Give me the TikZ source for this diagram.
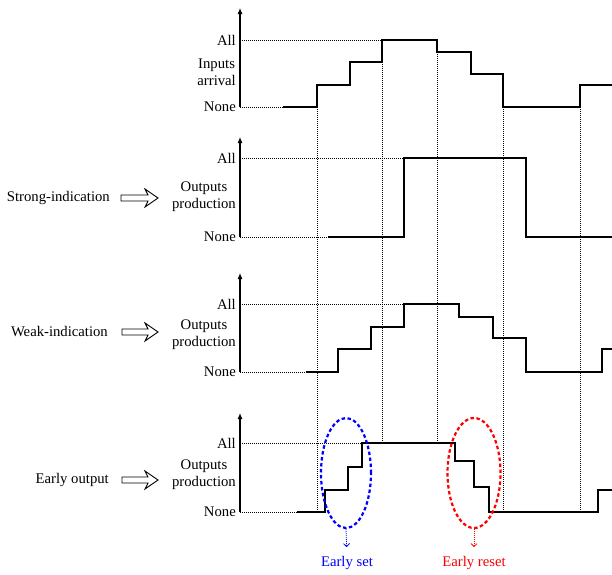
\documentclass[tikz,border=0pt]{standalone}
\usepackage{fontspec}
\setmainfont{Liberation Serif}
\usetikzlibrary{shapes.geometric,arrows.meta}
\begin{document}
\begin{tikzpicture}[x=1pt,y=-1pt,
  lbl/.style={font=\fontsize{14.7}{17}\selectfont, inner sep=0pt},
  lvl/.style={lbl, anchor=east},
  two/.style={lbl, anchor=east, align=center},
  wave/.style={line width=1.2pt, line join=miter},
  guide/.style={line width=0.6pt, dash pattern=on 1pt off 1pt},
  axis/.style={line width=1.1pt, -{Latex[length=6pt,width=5pt]}},
  fat/.style={draw, line width=0.9pt, fill=white, line join=miter},
  blob/.style={ellipse, draw, line width=2.2pt, dash pattern=on 3.5pt off 2.5pt, minimum height=110pt, inner sep=0pt},
  pointer/.style={line width=0.8pt, dash pattern=on 1pt off 1pt, -{Straight Barb[length=3pt,width=6pt]}, shorten >=9pt}
]
\useasboundingbox (0,0) rectangle (612,574);

% vertical guides
\draw[guide] (317,107) -- (317,512);
\draw[guide] (382,62) -- (382,443);
\draw[guide] (437,52) -- (437,443);
\draw[guide] (503,107) -- (503,512);
\draw[guide] (580,107) -- (580,512);

% ---- plot 1: inputs arrival
\draw[axis] (240,107) -- (240,8);
\draw[guide] (240,40) -- (382,40);
\draw[guide] (240,107) -- (283,107);
\draw[wave] (283,107) -- (317,107) -- (317,85) -- (350,85) -- (350,62) -- (382,62) -- (382,40) -- (437,40) -- (437,52) -- (471,52) -- (471,74) -- (503,74) -- (503,107) -- (580,107) -- (580,85) -- (612,85);
\node[lvl] (a1) at (236,40) {All};
\node[lvl] (n1) at (236,107) {None};
\node[two] (t1) at (236,72) {Inputs\\arrival};

% ---- plot 2: strong indication
\draw[axis] (240,237) -- (240,137);
\draw[guide] (240,158) -- (404,158);
\draw[guide] (240,237) -- (328,237);
\draw[wave] (328,237) -- (404,237) -- (404,158) -- (526,158) -- (526,237) -- (612,237);
\node[lvl] (a2) at (236,158) {All};
\node[lvl] (n2) at (236,237) {None};
\node[two] (t2) at (236,197) {Outputs\\production};
\node[lvl] (s2) at (110,198) {Strong-indication};
\coordinate (f2) at (121,198);
\draw[fat] (f2) ++(0,-3) -- ++(27,0) -- ++(-3,-6) -- ++(13,9) -- ++(-13,9) -- ++(3,-6) -- ++(-27,0) -- cycle;

% ---- plot 3: weak indication
\draw[axis] (240,372) -- (240,273);
\draw[guide] (240,304) -- (404,304);
\draw[guide] (240,372) -- (306,372);
\draw[wave] (306,372) -- (338,372) -- (338,349) -- (371,349) -- (371,327) -- (404,327) -- (404,304) -- (459,304) -- (459,317) -- (493,317) -- (493,338) -- (526,338) -- (526,372) -- (602,372) -- (602,349) -- (612,349);
\node[lvl] (a3) at (236,304) {All};
\node[lvl] (n3) at (236,372) {None};
\node[two] (t3) at (236,335) {Outputs\\production};
\node[lvl] (s3) at (108,332) {Weak-indication};
\coordinate (f3) at (122,332);
\draw[fat] (f3) ++(0,-3) -- ++(26,0) -- ++(-3,-6) -- ++(13,9) -- ++(-13,9) -- ++(3,-6) -- ++(-26,0) -- cycle;

% ---- plot 4: early output
\draw[axis] (240,512) -- (240,413);
\draw[guide] (240,443) -- (362,443);
\draw[guide] (240,512) -- (297,512);
\draw[wave] (297,512) -- (325,512) -- (325,490) -- (348,490) -- (348,467) -- (362,467) -- (362,443) -- (455,443) -- (455,461) -- (474,461) -- (474,487) -- (489,487) -- (489,512) -- (598,512) -- (598,490) -- (612,490);
\node[lvl] (a4) at (236,443) {All};
\node[lvl] (n4) at (236,512) {None};
\node[two] (t4) at (236,475) {Outputs\\production};
\node[lvl] (s4) at (109,480) {Early output};
\coordinate (f4) at (122,480);
\draw[fat] (f4) ++(0,-3) -- ++(26,0) -- ++(-3,-6) -- ++(13,9) -- ++(-13,9) -- ++(3,-6) -- ++(-26,0) -- cycle;

% ellipses and pointers
\node[blob, draw=blue, minimum width=50pt] (es) at (346,473) {};
\node[blob, draw=red, minimum width=53pt] (er) at (474,473) {};
\node[lbl, text=blue] (les) at (347,563) {Early set};
\node[lbl, text=red] (ler) at (474,563) {Early reset};
\draw[pointer, blue] (es.south) -- (les.north);
\draw[pointer, red] (er.south) -- (ler.north);
\end{tikzpicture}
\end{document}
